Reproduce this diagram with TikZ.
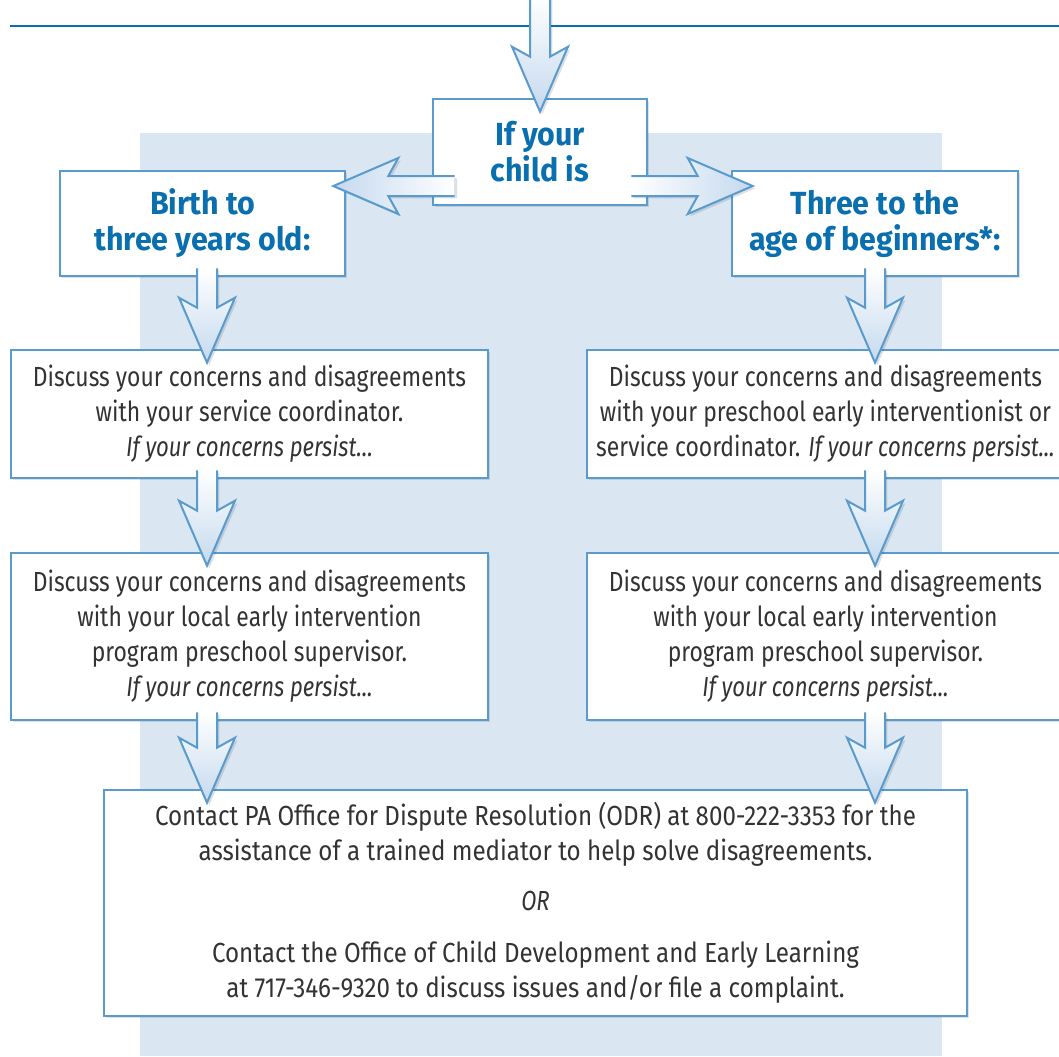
\documentclass[tikz,border=0pt]{standalone}
\usepackage{fontspec}
\setmainfont{Fira Sans}[FakeStretch=0.83, BoldFeatures={FakeStretch=0.95}, ItalicFeatures={FakeStretch=0.8}]
\usepackage{tikz}
\usetikzlibrary{calc,shadows}

\definecolor{bgblue}{HTML}{DAE6F2}
\definecolor{boxline}{HTML}{5A9BCD}
\definecolor{headblue}{HTML}{0A6FAE}
\definecolor{bodytext}{HTML}{333333}
\definecolor{arrowfill}{HTML}{C4D9EE}
\definecolor{ruleblue}{HTML}{0A70B0}

\tikzset{
  softshadow/.style={drop shadow={shadow xshift=1.2pt, shadow yshift=-1.2pt, opacity=0.14, fill=black!70!boxline}},
  box/.style={draw=boxline, line width=1.3pt, fill=white, inner sep=0pt, align=center,
    text=bodytext, font=\fontsize{13.8}{17.5}\selectfont, softshadow},
  headbox/.style={box, text=headblue, font=\fontsize{16}{18}\selectfont\bfseries},
  arrowline/.style={draw=boxline, line width=1pt, line join=miter},
}

% fat arrow going down: column, from, to
\newcommand{\fatdown}[3]{%
  \path ($(#2 -| #1)+(0,-9)$) coordinate (tl) ($(#3 -| #1)+(0,14)$) coordinate (tp);
  \shade[arrowline, top color=white, bottom color=arrowfill, softshadow]
    ($(tl)+(-10,0)$) -- ($(tp)+(-10,-55)$) -- ++(-18,-10) -- (tp) -- ++(28,-65) -- ++(-18,10) -- ($(tl)+(10,0)$);
}
% fat arrow going sideways: tail, tip, sign, shading
\newcommand{\fatside}[4]{%
  \shade[arrowline, #4, softshadow]
    ($(#1)+(0,-10)$) -- ($(#2)+({-55*(#3)},-10)$) -- ++({-10*(#3)},-18) -- (#2) -- ++({-65*(#3)},28) -- ++({10*(#3)},-18) -- ($(#1)+(0,10)$);
}

\begin{document}
\begin{tikzpicture}[x=0.5pt, y=-0.5pt]
\useasboundingbox (0,0) rectangle (1059,1056);
\fill[bgblue] (140,133) rectangle (942,1056);
\draw[ruleblue, line width=1pt] (10,26) -- (1059,26);

\coordinate (top) at (540,5);
\coordinate (colL) at (207,0);
\coordinate (colM) at (540,0);
\coordinate (colR) at (875,0);
\coordinate (rowH) at (0,186);

\node[headbox, minimum width=107pt, minimum height=53pt] (child) at (540,152) {If your\\child is};
\node[headbox, minimum width=142.5pt, minimum height=52.5pt] (birth) at (202.5,223.5) {Birth to\\three years old:};
\node[headbox, minimum width=143pt, minimum height=52.5pt] (three) at (875,223.5) {Three to the\\age of beginners*:};

\node[box, minimum width=238.5pt, minimum height=64pt] (left1) at (249.5,414)
  {Discuss your concerns and disagreements\\with your service coordinator.\\\textit{If your concerns persist\ldots}};
\node[box, minimum width=238.5pt, minimum height=64pt] (right1) at (825.5,414)
  {Discuss your concerns and disagreements\\with your preschool early interventionist or\\service coordinator. \textit{If your concerns persist...}};
\node[box, minimum width=238.5pt, minimum height=83.5pt] (left2) at (249.5,636.5)
  {Discuss your concerns and disagreements\\with your local early intervention\\program preschool supervisor.\\\textit{If your concerns persist...}};
\node[box, minimum width=238.5pt, minimum height=83.5pt] (right2) at (825.5,636.5)
  {Discuss your concerns and disagreements\\with your local early intervention\\program preschool supervisor.\\\textit{If your concerns persist...}};
\node[box, minimum width=431.5pt, minimum height=113pt, font=\fontsize{13.8}{17.5}\selectfont\addfontfeatures{FakeStretch=0.875}] (contact) at (535.5,903)
  {Contact PA Office for Dispute Resolution (ODR) at 800-222-3353 for the\\assistance of a trained mediator to help solve disagreements.\\[7.5pt]
   \textit{OR}\\[8.5pt]
   Contact the Office of Child Development and Early Learning\\at 717-346-9320 to discuss issues and/or file a complaint.};

% arrows
\fatdown{colM}{top}{child.north}
\fatside{$(child.west |- rowH)+(23,0)$}{$(birth.east |- rowH)+(-13,0)$}{-1}{left color=arrowfill, right color=white}
\fatside{$(child.east |- rowH)+(-17,0)$}{$(three.west |- rowH)+(22,0)$}{1}{left color=white, right color=arrowfill}
\fatdown{colL}{birth.south}{left1.north}
\fatdown{colR}{three.south}{right1.north}
\fatdown{colL}{left1.south}{left2.north}
\fatdown{colR}{right1.south}{right2.north}
\fatdown{colL}{left2.south}{contact.north}
\fatdown{colR}{right2.south}{contact.north}
\end{tikzpicture}
\end{document}
